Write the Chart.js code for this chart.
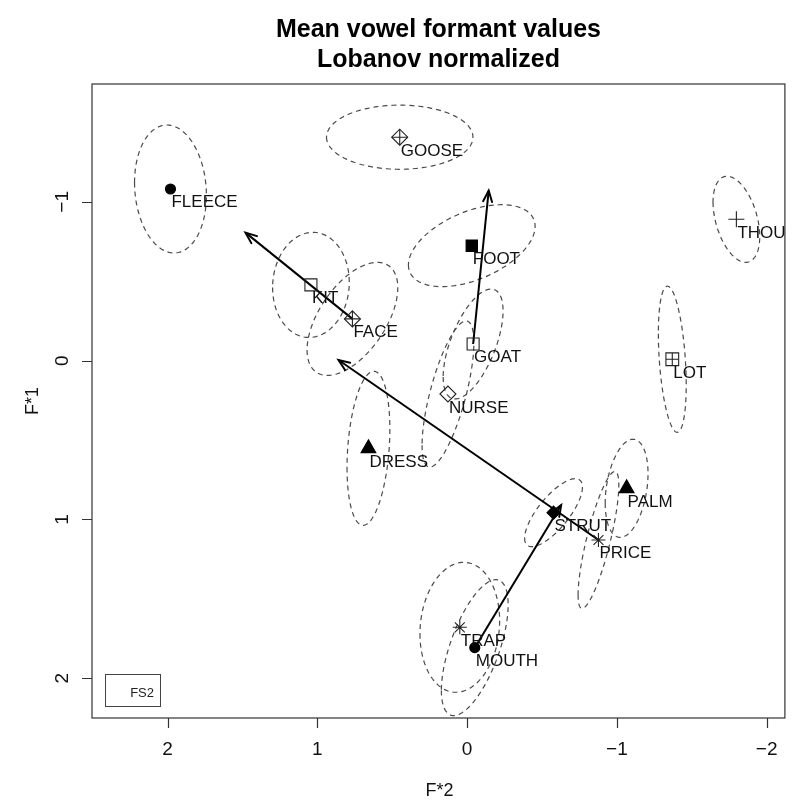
<!DOCTYPE html>
<html><head><meta charset="utf-8">
<script src="https://cdn.jsdelivr.net/npm/chart.js@4/dist/chart.umd.min.js"></script>
<style>html,body{margin:0;padding:0;background:#fff}#wrap{width:795px;height:801px;position:relative}</style>
</head><body><div id="wrap"><canvas id="c"></canvas></div>
<script>
// ---- data ----
const vowels = ['FLEECE','KIT','FACE','DRESS','TRAP','STRUT','PALM','NURSE','GOOSE','FOOT','GOAT','THOUGHT','LOT','PRICE','MOUTH'];
const f2Mean = [1.981, 1.043, 0.766, 0.659, 0.049, -0.577, -1.065, 0.128, 0.450, -0.031, -0.040, -1.798, -1.370, -0.877, -0.051];
const f1Mean = [-1.081, -0.477, -0.263, 0.552, 1.679, 0.957, 0.804, 0.210, -1.407, -0.724, -0.105, -0.890, -0.009, 1.129, 1.807];
// ellipse half-extents (data units) and correlation
const f2Spread = [0.240, 0.256, 0.303, 0.143, 0.266, 0.193, 0.143, 0.173, 0.489, 0.423, 0.200, 0.156, 0.093, 0.136, 0.223];
const f1Spread = [0.403, 0.331, 0.356, 0.485, 0.409, 0.214, 0.309, 0.460, 0.202, 0.258, 0.346, 0.271, 0.460, 0.431, 0.428];
const corr     = [-0.10, 0.05, 0.55, 0.25, 0.10, 0.75, 0.30, 0.70, 0.00, 0.47, 0.60, -0.40, -0.35, 0.80, 0.63];
// diphthong trajectories
const arrowFrom = ['FACE','GOAT','PRICE','MOUTH'];
const arrowToF2 = [1.480, -0.144, 0.859, -0.628];
const arrowToF1 = [-0.806, -1.071, -0.004, 0.909];
// axes
const xTicks = [2, 1, 0, -1, -2];
const yTicks = [-1, 0, 1, 2];
const xRange = [-2.122, 2.505];
const yRange = [-1.742, 2.250];
const titleLines = ['Mean vowel formant values', 'Lobanov normalized'];
const xTitle = 'F*2', yTitle = 'F*1', legendText = 'FS2';

// ---- marker styles (presentation) ----
const markerStyle = {
  FLEECE: ['circle', 5, true], KIT: ['rect', 8.5, false], FACE: ['rectRot', 8, false],
  DRESS: ['triangle', 8.5, true], TRAP: ['star', 7, false], STRUT: ['rectRot', 6.5, true],
  PALM: ['triangle', 8.5, true], NURSE: ['rectRot', 8, false], GOOSE: ['rectRot', 8, false],
  FOOT: ['rect', 8, true], GOAT: ['rect', 8.5, false], THOUGHT: ['cross', 8, false],
  LOT: ['rect', 9, false], PRICE: ['star', 7, false], MOUTH: ['circle', 5, true]
};
const overlayCross = { FACE: 8, GOOSE: 8, LOT: 6.3 };

const fmt = v => (v < 0 ? '\u2212' + Math.abs(v) : String(v));
const FONT = '"Liberation Sans", Arial, Helvetica, sans-serif';

// ---- datasets ----
const datasets = [];
datasets.push({
  type: 'scatter', order: 0,
  data: vowels.map((v, i) => ({ x: f2Mean[i], y: f1Mean[i] })),
  pointStyle: vowels.map(v => markerStyle[v][0]),
  pointRadius: vowels.map(v => markerStyle[v][1]),
  backgroundColor: vowels.map(v => markerStyle[v][2] ? '#000' : 'rgba(0,0,0,0)'),
  borderColor: vowels.map(v => markerStyle[v][2] ? '#000' : '#222'),
  borderWidth: 1.1
});
const ov = vowels.filter(v => overlayCross[v] !== undefined);
datasets.push({
  type: 'scatter', order: 0,
  data: ov.map(v => { const i = vowels.indexOf(v); return { x: f2Mean[i], y: f1Mean[i] }; }),
  pointStyle: 'cross', pointRadius: ov.map(v => overlayCross[v]),
  borderColor: '#222', borderWidth: 1.1, backgroundColor: 'rgba(0,0,0,0)'
});
arrowFrom.forEach((v, j) => {
  const i = vowels.indexOf(v);
  datasets.push({
    type: 'line', order: 1,
    data: [{ x: f2Mean[i], y: f1Mean[i] }, { x: arrowToF2[j], y: arrowToF1[j] }],
    borderColor: '#000', borderWidth: 2, pointRadius: 0, fill: false, tension: 0
  });
});
vowels.forEach((v, i) => {
  const phi = Math.acos(corr[i]);
  const pts = [];
  const N = 140;
  for (let k = 0; k <= N; k++) {
    const t = 2 * Math.PI * k / N;
    pts.push({ x: f2Mean[i] + f2Spread[i] * Math.cos(t), y: f1Mean[i] + f1Spread[i] * Math.cos(t - phi) });
  }
  datasets.push({
    type: 'line', order: 2, data: pts,
    borderColor: '#4a4a4a', borderWidth: 1.2, borderDash: [5, 4],
    pointRadius: 0, fill: false, tension: 0
  });
});

// ---- decorations ----
const deco = {
  id: 'deco',
  beforeDraw(chart) {
    const ctx = chart.ctx;
    ctx.save(); ctx.fillStyle = '#fff'; ctx.fillRect(0, 0, chart.width, chart.height); ctx.restore();
  },
  afterDatasetsDraw(chart) {
    const ctx = chart.ctx, xs = chart.scales.x, ys = chart.scales.y, ca = chart.chartArea;
    // arrow heads
    ctx.save();
    ctx.strokeStyle = '#000'; ctx.lineWidth = 2; ctx.lineCap = 'round';
    arrowFrom.forEach((v, j) => {
      const i = vowels.indexOf(v);
      const x0 = xs.getPixelForValue(f2Mean[i]), y0 = ys.getPixelForValue(f1Mean[i]);
      const x1 = xs.getPixelForValue(arrowToF2[j]), y1 = ys.getPixelForValue(arrowToF1[j]);
      const a = Math.atan2(y1 - y0, x1 - x0), L = 12, ang = 22 * Math.PI / 180;
      ctx.beginPath();
      ctx.moveTo(x1 - L * Math.cos(a - ang), y1 - L * Math.sin(a - ang));
      ctx.lineTo(x1, y1);
      ctx.lineTo(x1 - L * Math.cos(a + ang), y1 - L * Math.sin(a + ang));
      ctx.stroke();
    });
    ctx.restore();
    // vowel labels (clipped to plot region)
    ctx.save();
    ctx.beginPath(); ctx.rect(ca.left, ca.top, ca.right - ca.left, ca.bottom - ca.top); ctx.clip();
    ctx.font = '17px ' + FONT; ctx.fillStyle = '#111'; ctx.textAlign = 'left'; ctx.textBaseline = 'alphabetic';
    vowels.forEach((v, i) => {
      ctx.fillText(v, xs.getPixelForValue(f2Mean[i]) + 1, ys.getPixelForValue(f1Mean[i]) + 18.5);
    });
    ctx.restore();
  },
  afterDraw(chart) {
    const ctx = chart.ctx, xs = chart.scales.x, ys = chart.scales.y, ca = chart.chartArea;
    ctx.save();
    // box
    ctx.strokeStyle = '#333'; ctx.lineWidth = 1.2;
    ctx.strokeRect(ca.left, ca.top, ca.right - ca.left, ca.bottom - ca.top);
    // ticks
    ctx.beginPath();
    xTicks.forEach(t => { const p = Math.round(xs.getPixelForValue(t)) + 0.5; ctx.moveTo(p, ca.bottom); ctx.lineTo(p, ca.bottom + 10); });
    yTicks.forEach(t => { const p = Math.round(ys.getPixelForValue(t)) + 0.5; ctx.moveTo(ca.left, p); ctx.lineTo(ca.left - 10, p); });
    ctx.stroke();
    // tick labels
    ctx.fillStyle = '#111';
    ctx.font = '19px ' + FONT; ctx.textAlign = 'center'; ctx.textBaseline = 'alphabetic';
    xTicks.forEach(t => ctx.fillText(fmt(t), xs.getPixelForValue(t), ca.bottom + 36.5));
    yTicks.forEach(t => {
      ctx.save(); ctx.translate(ca.left - 24, ys.getPixelForValue(t)); ctx.rotate(-Math.PI / 2);
      ctx.fillText(fmt(t), 0, 0); ctx.restore();
    });
    // axis titles
    ctx.font = '18px ' + FONT;
    const cx = (ca.left + ca.right) / 2, cy = (ca.top + ca.bottom) / 2;
    ctx.fillText(xTitle, cx + 1, ca.bottom + 78);
    ctx.save(); ctx.translate(38, cy); ctx.rotate(-Math.PI / 2); ctx.fillText(yTitle, 0, 0); ctx.restore();
    // title
    ctx.font = 'bold 25px ' + FONT; ctx.fillStyle = '#000';
    ctx.fillText(titleLines[0], cx, 36.5);
    ctx.fillText(titleLines[1], cx, 67);
    // legend box
    ctx.strokeStyle = '#444'; ctx.lineWidth = 1;
    ctx.strokeRect(105.5, 674.5, 55, 32);
    ctx.font = '13px ' + FONT; ctx.fillStyle = '#222'; ctx.textAlign = 'right';
    ctx.fillText(legendText, 154, 697);
    ctx.restore();
  }
};

new Chart(document.getElementById('c'), {
  type: 'scatter',
  data: { datasets },
  options: {
    responsive: true, maintainAspectRatio: false, animation: false,
    layout: { padding: { left: 92, right: 8, top: 84, bottom: 83 } },
    plugins: { legend: { display: false }, tooltip: { enabled: false }, title: { display: false } },
    scales: {
      x: { type: 'linear', min: xRange[0], max: xRange[1], reverse: true, display: false },
      y: { type: 'linear', min: yRange[0], max: yRange[1], reverse: true, display: false }
    },
    events: []
  },
  plugins: [deco]
});
</script></body></html>
